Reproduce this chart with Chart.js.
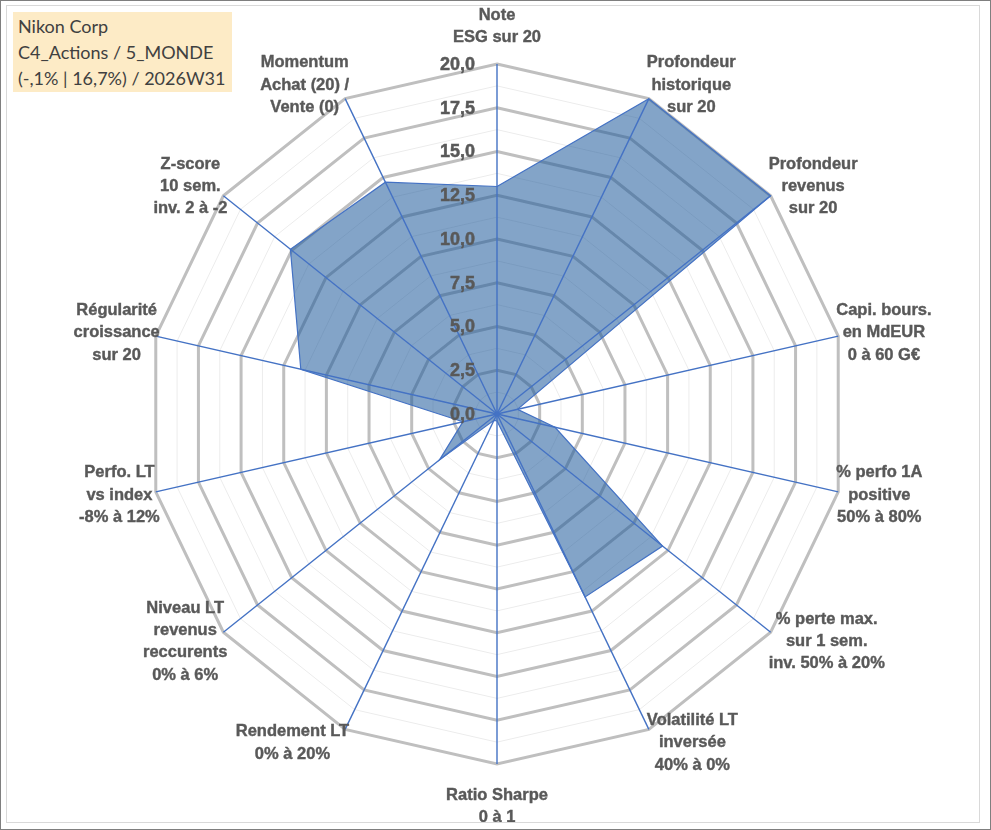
<!DOCTYPE html>
<html>
<head>
<meta charset="utf-8">
<title>Nikon Corp - radar</title>
<script src="https://cdn.jsdelivr.net/npm/chart.js@4.4.1/dist/chart.umd.min.js"></script>
<style>
    html, body { margin: 0; padding: 0; background: #ffffff; }
    #wrap { position: relative; width: 991px; height: 830px; overflow: hidden; }
    #radar { position: absolute; left: 0; top: 0; }
    .frame { position: absolute; left: 0; top: 0; width: 989px; height: 828px; border: 1px solid #7f7f7f; pointer-events: none; }
    .frame-inner { position: absolute; left: 5px; top: 4px; right: 10px; bottom: 6px; border: 1px solid #d9d9d9; pointer-events: none; }
    .tag {
        position: absolute; left: 13px; top: 12px; width: 214px; height: 79px;
        padding: 1px 0 0 5px; background: #fdebc6; color: #404040;
        font-family: Lato, "Open Sans", sans-serif; font-size: 18px; line-height: 26px;
        white-space: nowrap;
    }
</style>
</head>
<body>
<div id="wrap">
    <canvas id="radar" width="991" height="830"></canvas>
    <div class="tag">Nikon Corp<br>C4_Actions / 5_MONDE<br>(-,1% | 16,7%) / 2026W31</div>
    <div class="frame"><div class="frame-inner"></div></div>
</div>
<script>
// Axes of the radar (one entry per criterion, multi-line labels)
const axisLabels = [
    ['Note', 'ESG sur 20'],
    ['Profondeur', 'historique', 'sur 20'],
    ['Profondeur', 'revenus', 'sur 20'],
    ['Capi. bours.', 'en MdEUR', '0 à 60 G€'],
    ['% perfo 1A', 'positive', '50% à 80%'],
    ['% perte max.', 'sur 1 sem.', 'inv. 50% à 20%'],
    ['Volatilité LT', 'inversée', '40% à 0%'],
    ['Ratio Sharpe', '0 à 1'],
    ['Rendement LT', '0% à 20%'],
    ['Niveau LT', 'revenus', 'reccurents', '0% à 6%'],
    ['Perfo. LT', 'vs index', '-8% à 12%'],
    ['Régularité', 'croissance', 'sur 20'],
    ['Z-score', '10 sem.', 'inv. 2 à -2'],
    ['Momentum', 'Achat (20) /', 'Vente (0)']
];

// Scores out of 20
const scores = [13.0, 20.0, 20.0, 1.2, 3.4, 12.1, 11.6, 0.4, 0.4, 4.2, 2.0, 11.5, 15.1, 14.7];

// Radial scale: major rings every 2.5, faint minor rings in between
const scaleMin = 0;
const scaleMax = 20;
const majorStep = 2.5;
const minorStep = 1.25;

const textGrey = '#595959';
const axisBlue = '#4472c4';

function isMajor(v) {
    return Math.abs(v / majorStep - Math.round(v / majorStep)) < 1e-6;
}

// heavier text, a bit like the Excel rendering
function boldText(ctx, txt, x, y) {
    ctx.fillText(txt, x, y);
    ctx.strokeText(txt, x, y);
}

// blue spokes and value labels drawn over the fill
const overlayPlugin = {
    id: 'overlay',
    afterDatasetsDraw(chart) {
        const scale = chart.scales.r;
        const ctx = chart.ctx;
        ctx.save();
        ctx.strokeStyle = axisBlue;
        ctx.lineWidth = 1.4;
        for (let i = 0; i < axisLabels.length; i++) {
            const p = scale.getPointPositionForValue(i, scale.max);
            ctx.beginPath();
            ctx.moveTo(scale.xCenter, scale.yCenter);
            ctx.lineTo(p.x, p.y);
            ctx.stroke();
        }
        ctx.fillStyle = axisBlue;
        ctx.beginPath();
        ctx.arc(scale.xCenter, scale.yCenter, 2.5, 0, Math.PI * 2);
        ctx.fill();

        ctx.fillStyle = textGrey;
        ctx.strokeStyle = textGrey;
        ctx.lineWidth = 0.5;
        ctx.font = 'bold 18px "Liberation Sans", Arial, sans-serif';
        ctx.textAlign = 'right';
        ctx.textBaseline = 'middle';
        scale.ticks.forEach(t => {
            if (!isMajor(t.value)) return;
            const y = scale.yCenter - scale.getDistanceFromCenterForValue(t.value);
            boldText(ctx, t.value.toFixed(1).replace('.', ','), scale.xCenter - 22, y + 1);
        });
        ctx.restore();
    },
    afterDraw(chart) {
        const scale = chart.scales.r;
        const ctx = chart.ctx;
        const lineH = 22.3;
        ctx.save();
        ctx.fillStyle = textGrey;
        ctx.strokeStyle = textGrey;
        ctx.lineWidth = 0.4;
        ctx.font = 'bold 16.5px "Liberation Sans", Arial, sans-serif';
        ctx.textAlign = 'center';
        ctx.textBaseline = 'middle';
        axisLabels.forEach((lines, i) => {
            const p = scale.getPointPositionForValue(i, scale.max);
            const a = scale.getIndexAngle(i);
            const s = Math.sin(a), c = Math.cos(a);
            const w = Math.max(...lines.map(l => ctx.measureText(l).width));
            const h = lines.length * lineH;
            let cx, top;
            if (Math.abs(s) < 0.01) {
                cx = p.x;
                top = c > 0 ? p.y - 15 - h : p.y + 20;
            } else {
                cx = s > 0 ? p.x - 2 + w / 2 : p.x + 4 - w / 2;
                top = p.y - 15 * c - h / 2;
            }
            lines.forEach((l, k) => boldText(ctx, l, cx, top + lineH * (k + 0.5)));
        });
        ctx.restore();
    }
};

const chart = new Chart(document.getElementById('radar'), {
    type: 'radar',
    data: {
        labels: axisLabels,
        datasets: [{
            label: 'Nikon Corp',
            data: scores,
            fill: 'origin',
            backgroundColor: 'rgba(30, 90, 155, 0.55)',
            borderColor: axisBlue,
            borderWidth: 1.2,
            pointRadius: 0,
            pointHoverRadius: 0
        }]
    },
    options: {
        responsive: false,
        animation: false,
        layout: {
            padding: { top: 64, bottom: 66, left: 3, right: 0 }
        },
        plugins: {
            legend: { display: false },
            tooltip: { enabled: false }
        },
        scales: {
            r: {
                min: scaleMin,
                max: scaleMax,
                beginAtZero: true,
                angleLines: { display: false },
                grid: {
                    circular: false,
                    color: ctx => isMajor(ctx.tick.value) ? '#bfbfbf' : '#ececec',
                    lineWidth: ctx => isMajor(ctx.tick.value) ? 3 : 1
                },
                ticks: {
                    display: false,
                    stepSize: minorStep,
                    maxTicksLimit: 100
                },
                pointLabels: { display: false }
            }
        }
    },
    plugins: [overlayPlugin]
});
</script>
</body>
</html>
